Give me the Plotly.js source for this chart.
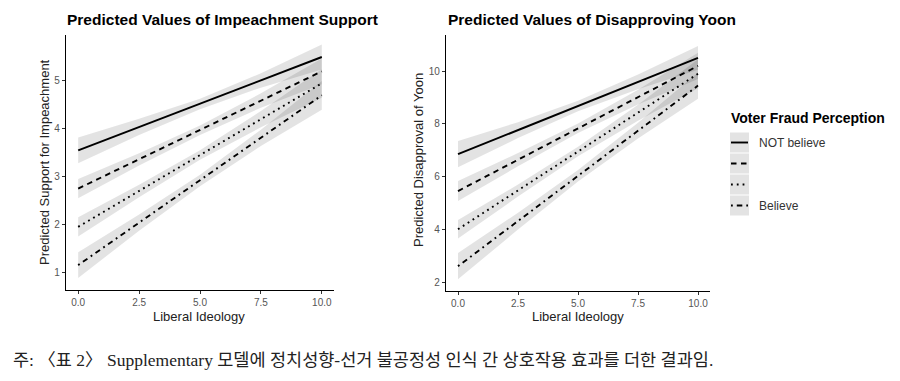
<!DOCTYPE html>
<html>
<head>
<meta charset="utf-8">
<script src="https://cdn.plot.ly/plotly-3.0.1.min.js"></script>
<style>html,body{margin:0;padding:0;background:#fff;}#chart{width:900px;height:381px;}</style>
</head>
<body>
<div id="chart"></div>
<script>
// ---- data ----
const xVals = [0, 2.5, 5, 7.5, 10];
const groups = ["NOT believe", "", "", "Believe"];
const xTickVals = [0, 2.5, 5, 7.5, 10];
const xTickText = ["0.0", "2.5", "5.0", "7.5", "10.0"];

// Panel 1: Predicted Support for Impeachment
const impFit = [
  [3.55, 4.04, 4.52, 5.01, 5.50],
  [2.75, 3.36, 3.97, 4.59, 5.20],
  [1.95, 2.70, 3.45, 4.20, 4.95],
  [1.15, 2.04, 2.92, 3.81, 4.70]
];
const impLow = [
  [3.28, 3.87, 4.41, 4.86, 5.24],
  [2.55, 3.23, 3.87, 4.44, 4.93],
  [1.75, 2.57, 3.35, 4.03, 4.65],
  [0.88, 1.87, 2.80, 3.64, 4.40]
];
const impHigh = [
  [3.82, 4.21, 4.63, 5.16, 5.76],
  [2.95, 3.49, 4.07, 4.74, 5.47],
  [2.15, 2.83, 3.55, 4.37, 5.25],
  [1.42, 2.21, 3.04, 3.98, 5.00]
];
const impTicks = [1, 2, 3, 4, 5];

// Panel 2: Predicted Disapproval of Yoon
const yoonFit = [
  [6.85, 7.76, 8.68, 9.59, 10.50],
  [5.45, 6.64, 7.83, 9.01, 10.20],
  [4.00, 5.47, 6.95, 8.42, 9.90],
  [2.60, 4.31, 6.03, 7.74, 9.45]
];
const yoonLow = [
  [6.35, 7.46, 8.48, 9.31, 10.05],
  [5.07, 6.39, 7.65, 8.73, 9.70],
  [3.65, 5.24, 6.77, 8.12, 9.35],
  [2.10, 3.99, 5.81, 7.44, 8.95]
];
const yoonHigh = [
  [7.35, 8.06, 8.88, 9.87, 10.95],
  [5.83, 6.89, 8.01, 9.29, 10.70],
  [4.35, 5.70, 7.13, 8.72, 10.45],
  [3.10, 4.63, 6.25, 8.04, 9.95]
];
const yoonTicks = [2, 4, 6, 8, 10];

// ---- styles ----
const dashes = ["solid", "5.5px,4.5px", "1.8px,4px", "1.8px,4px,5.5px,4px"];
const W = 900, H = 381;
const px = v => v / W;
const py = v => 1 - v / H;

const traces = [];
function addPanel(fit, low, high, xa, ya) {
  for (let g = 0; g < fit.length; g++) {
    traces.push({
      x: xVals.concat(xVals.slice().reverse()),
      y: low[g].concat(high[g].slice().reverse()),
      xaxis: xa, yaxis: ya,
      type: "scatter", mode: "lines", fill: "toself",
      fillcolor: "rgba(0,0,0,0.11)", line: {width: 0},
      hoverinfo: "skip", showlegend: false
    });
  }
  for (let g = 0; g < fit.length; g++) {
    traces.push({
      x: xVals, y: fit[g], xaxis: xa, yaxis: ya,
      type: "scatter", mode: "lines",
      line: {color: "#000", width: 1.9, dash: dashes[g]},
      name: groups[g], showlegend: false
    });
  }
}
addPanel(impFit, impLow, impHigh, "x", "y");
addPanel(yoonFit, yoonLow, yoonHigh, "x2", "y2");

const axisCommon = {
  showgrid: false, zeroline: false, showline: true,
  linecolor: "#000", linewidth: 1.1,
  ticks: "outside", ticklen: 3, tickcolor: "#333", tickwidth: 1,
  tickfont: {family: "Liberation Sans, Arial, sans-serif", size: 10, color: "#555"},
  fixedrange: true
};

const font = "Liberation Sans, Arial, sans-serif";
const annotations = [
  {text: "<b>Predicted Values of Impeachment Support</b>", x: px(65), y: py(19.5), xref: "paper", yref: "paper",
   xanchor: "left", yanchor: "middle", showarrow: false, font: {family: font, size: 15.5, color: "#000"}},
  {text: "<b>Predicted Values of Disapproving Yoon</b>", x: px(446), y: py(19.5), xref: "paper", yref: "paper",
   xanchor: "left", yanchor: "middle", showarrow: false, font: {family: font, size: 15.5, color: "#000"}},
  {text: "Liberal Ideology", x: px(199), y: py(316), xref: "paper", yref: "paper",
   xanchor: "center", yanchor: "middle", showarrow: false, font: {family: font, size: 13, color: "#222"}},
  {text: "Liberal Ideology", x: px(578), y: py(316), xref: "paper", yref: "paper",
   xanchor: "center", yanchor: "middle", showarrow: false, font: {family: font, size: 13, color: "#222"}},
  {text: "Predicted Support for Impeachment", x: px(44), y: py(162), xref: "paper", yref: "paper", textangle: -90,
   xanchor: "center", yanchor: "middle", showarrow: false, font: {family: font, size: 13, color: "#222"}},
  {text: "Predicted Disapproval of Yoon", x: px(418), y: py(160), xref: "paper", yref: "paper", textangle: -90,
   xanchor: "center", yanchor: "middle", showarrow: false, font: {family: font, size: 13, color: "#222"}},
  {text: "<b>Voter Fraud Perception</b>", x: px(729), y: py(118), xref: "paper", yref: "paper",
   xanchor: "left", yanchor: "middle", showarrow: false, font: {family: font, size: 14, color: "#000"}},
  {text: "주: 〈표 2〉 Supplementary 모델에 정치성향-선거 불공정성 인식 간 상호작용 효과를 더한 결과임.",
   x: px(11), y: py(360), xref: "paper", yref: "paper", xanchor: "left", yanchor: "middle", showarrow: false,
   font: {family: "Liberation Serif, Noto Sans CJK KR, serif", size: 17.5, color: "#222"}}
];

// legend keys
const shapes = [];
const rowY = [142.5, 163.5, 184.5, 205.5];
for (let g = 0; g < groups.length; g++) {
  shapes.push({type: "rect", xref: "paper", yref: "paper",
    x0: px(730), x1: px(749), y0: py(rowY[g] - 10), y1: py(rowY[g] + 10),
    fillcolor: "#e3e3e3", line: {width: 0}});
  shapes.push({type: "line", xref: "paper", yref: "paper",
    x0: px(731), x1: px(748), y0: py(rowY[g]), y1: py(rowY[g]),
    line: {color: "#000", width: 1.9, dash: dashes[g]}});
  if (groups[g]) {
    annotations.push({text: groups[g], x: px(757), y: py(rowY[g]), xref: "paper", yref: "paper",
      xanchor: "left", yanchor: "middle", showarrow: false, font: {family: font, size: 12, color: "#333"}});
  }
}

const layout = {
  width: W, height: H,
  margin: {l: 0, r: 0, t: 0, b: 0},
  paper_bgcolor: "#fff", plot_bgcolor: "#fff",
  showlegend: false,
  xaxis: Object.assign({}, axisCommon, {domain: [px(66), px(334)], range: [-0.5, 10.5],
    tickvals: xTickVals, ticktext: xTickText, anchor: "y"}),
  yaxis: Object.assign({}, axisCommon, {domain: [py(290), py(35)], range: [0.63, 5.96],
    tickvals: impTicks, anchor: "x"}),
  xaxis2: Object.assign({}, axisCommon, {domain: [px(446), px(710)], range: [-0.5, 10.5],
    tickvals: xTickVals, ticktext: xTickText, anchor: "y2"}),
  yaxis2: Object.assign({}, axisCommon, {domain: [py(290.7), py(35)], range: [1.67, 11.37],
    tickvals: yoonTicks, anchor: "x2"}),
  annotations: annotations,
  shapes: shapes
};

Plotly.newPlot("chart", traces, layout, {displayModeBar: false, staticPlot: true});
</script>
</body>
</html>
